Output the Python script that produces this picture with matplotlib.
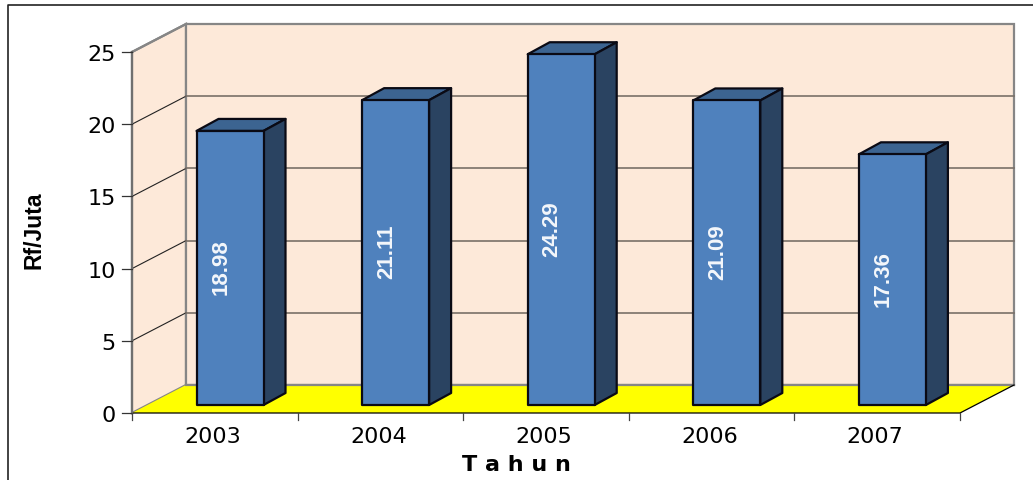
import matplotlib
matplotlib.use("Agg")
import matplotlib.pyplot as plt
from matplotlib.patches import Polygon

years = ["2003", "2004", "2005", "2006", "2007"]
values = [18.98, 21.11, 24.29, 21.09, 17.36]
value_labels = ["18.98", "21.11", "24.29", "21.09", "17.36"]
yticks = [0, 5, 10, 15, 20, 25]

W, H = 1033, 481
PX_X = 165.6   # px per category
PX_Y = 14.44   # px per value unit
X0, Y0 = 132, 414  # pixel of the origin

fig = plt.figure(figsize=(W / 100, H / 100), dpi=100)
ax = fig.add_axes([0, 0, 1, 1])
ax.set_xlim(-X0 / PX_X, (W - X0) / PX_X)
ax.set_ylim(-(H - Y0) / PX_Y, Y0 / PX_Y)
ax.axis("off")
plt.rcParams["font.family"] = ["Liberation Sans", "DejaVu Sans"]

def px(dx, dy):
    """pixel offset (right, up) -> data offset"""
    return dx / PX_X, dy / PX_Y

n = len(years)
ymax = yticks[-1]
wx, wy = px(54, 28)      # wall depth
GRAY = "#868686"
WALL = "#FDE9D9"

# outer frame (left and top only are visible)
fx0 = -(X0 - 8) / PX_X
fx1 = (W - X0) / PX_X
ftop = (Y0 - 6) / PX_Y
fbot = -(H - Y0) / PX_Y
ax.plot([fx0, fx0, fx1], [fbot, ftop, ftop], color="#222222", lw=1.2, zorder=1)

# walls and floor
ax.add_patch(Polygon([(0, 0), (wx, wy), (wx, ymax + wy), (0, ymax)],
                     fc=WALL, ec=GRAY, lw=1.6, zorder=2))
ax.add_patch(Polygon([(wx, wy), (n + wx, wy), (n + wx, ymax + wy), (wx, ymax + wy)],
                     fc=WALL, ec=GRAY, lw=1.6, zorder=2))
ax.add_patch(Polygon([(0, 0), (wx, wy), (n + wx, wy), (n, 0)],
                     fc="#FFFF00", ec="none", zorder=3))
ax.plot([wx, n + wx], [wy, wy], color=GRAY, lw=1.6, zorder=3)
ax.plot([0, n, n + wx], [0, 0, wy], color="black", lw=0.9, zorder=4)

# gridlines
for t in yticks[1:-1]:
    ax.plot([0, wx], [t, t + wy], color="#222222", lw=0.8, zorder=3)
    ax.plot([wx, n + wx], [t + wy, t + wy], color="#7A7068", lw=1.2, zorder=3)
ax.plot([0, wx], [ymax, ymax + wy], color=GRAY, lw=1.6, zorder=3)

# y axis
ax.plot([0, 0], [0, ymax], color="#707070", lw=1.6, zorder=4)
tx, _ = px(-10, 0)
for t in yticks:
    ax.plot([tx, 0], [t, t], color="#333333", lw=0.9, zorder=4)
    ax.text(px(-16, 0)[0], t, str(t), ha="right", va="center_baseline", fontsize=16,
            family="DejaVu Sans", color="black", zorder=5)

# x axis
_, ty = px(0, -7)
for i in range(n + 1):
    ax.plot([i, i], [ty, 0], color="#444444", lw=0.9, zorder=4)
for i, y in enumerate(years):
    ax.text(i + 0.5 - px(2, 0)[0], px(0, -23)[1], y, ha="center", va="center", fontsize=16,
            family="DejaVu Sans", color="black", zorder=5)

# bars
off_x, off_y = px(64.5, 8)
bw = px(67, 0)[0]
dx, dy = px(22, 12)
lab_dx = px(-9, 0)[0]
for i, v in enumerate(values):
    l = i + off_x
    r = l + bw
    b = off_y
    t = off_y + v
    ax.add_patch(Polygon([(l, t), (r, t), (r + dx, t + dy), (l + dx, t + dy)],
                         fc="#3C6491", ec="#0A0A14", lw=1.6, joinstyle="round", zorder=6))
    ax.add_patch(Polygon([(r, b), (r + dx, b + dy), (r + dx, t + dy), (r, t)],
                         fc="#2A4361", ec="#0A0A14", lw=1.6, joinstyle="round", zorder=6))
    ax.add_patch(Polygon([(l, b), (r, b), (r, t), (l, t)],
                         fc="#4F81BD", ec="#0A0A14", lw=1.6, joinstyle="round", zorder=7))
    ax.text((l + r) / 2 + lab_dx, off_y + v / 2 + px(0, 2)[1], value_labels[i], rotation=90,
            ha="center", va="center", color="#F4F7FB", fontsize=16, fontweight="bold", zorder=8)

# axis titles
ax.text(px(384, 0)[0], px(0, -51)[1], "T a h u n", ha="center", va="center",
        fontsize=16, fontweight="bold", family="DejaVu Sans", color="black", zorder=5)
ax.text(px(-98, 0)[0], px(0, 184)[1], "Rf/Juta", rotation=90, ha="center",
        va="center", fontsize=16.5, fontweight="bold", color="black", zorder=5)

fig.savefig("out.png", dpi=100)
